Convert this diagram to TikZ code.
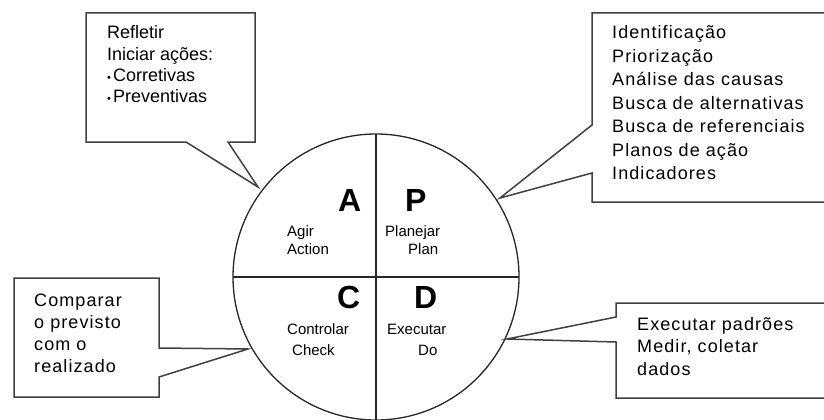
\documentclass[tikz,border=0pt]{standalone}
\usepackage{fontspec}
\setmainfont{Liberation Sans}
\newfontfamily\trackfont[LetterSpace=6]{Liberation Sans}
\begin{document}
\begin{tikzpicture}[x=1pt,y=-1pt,
  callout/.style={draw=black!75, line width=1.5pt, fill=white, line join=miter},
  ring/.style={draw=black!85, line width=1.3pt},
  bigletter/.style={font=\fontsize{32}{32}\selectfont\bfseries, inner sep=0, anchor=base west},
  small/.style={font=\fontsize{15}{15}\selectfont, inner sep=0, anchor=base west},
  txt/.style={inner sep=0, anchor=base west}]
\useasboundingbox (0,0) rectangle (824,420);
\begin{scope}
\clip (0,0) rectangle (824,420);
% circle
\node[ring, circle, minimum size=286pt, inner sep=0, outer sep=0] (cyc) at (376,277) {};
\draw[ring] (cyc.north) -- (cyc.south);
\draw[ring] (cyc.west) -- (cyc.east);
% callout tips
\coordinate (tipA) at (258,187);
\coordinate (tipP) at (500,198);
\coordinate (tipC) at (248,349);
\coordinate (tipD) at (507,339);
% callouts
\draw[callout] (86,13) -- (255,13) -- (255,142) -- (228,142) -- (tipA) -- (186,142) -- (86,142) -- cycle;
\draw[callout] (592,13) -- (832,13) -- (832,202) -- (592,202) -- (592,173) -- (tipP) -- (592,125) -- cycle;
\draw[callout] (14,278) -- (159,278) -- (159,348) -- (tipC) -- (159,377) -- (159,397) -- (14,397) -- cycle;
\draw[callout] (616,303) -- (832,303) -- (832,398) -- (616,398) -- (616,342) -- (tipD) -- (616,317) -- cycle;
% callout texts
\node[txt, font=\fontsize{18}{21.3}\selectfont] (atext) at (107,39)
  {\begin{tabular}[t]{@{}l@{}}Refletir\\Iniciar ações:\\{\fontsize{11}{11}\selectfont •}\hspace{2pt}Corretivas\\{\fontsize{11}{11}\selectfont •}\hspace{2pt}Preventivas\end{tabular}};
\node[txt, font=\trackfont\fontsize{18}{23.4}\selectfont] (ptext) at (612,39)
  {\begin{tabular}[t]{@{}l@{}}Identificação\\Priorização\\Análise das causas\\Busca de alternativas\\Busca de referenciais\\Planos de ação\\Indicadores\end{tabular}};
\node[txt, font=\trackfont\fontsize{18}{22.3}\selectfont] (ctext) at (34,306)
  {\begin{tabular}[t]{@{}l@{}}Comparar\\o previsto\\com o\\realizado\end{tabular}};
\node[txt, font=\trackfont\fontsize{18}{22.5}\selectfont] (dtext) at (637,330)
  {\begin{tabular}[t]{@{}l@{}}Executar padrões\\Medir, coletar\\dados\end{tabular}};
% quadrant letters
\node[bigletter] (letA) at (338,211) {A};
\node[bigletter] (letP) at (405,211) {P};
\node[bigletter] (letC) at (337,308) {C};
\node[bigletter] (letD) at (414,308) {D};
% quadrant labels
\node[small] (agir) at (287,236) {Agir};
\node[small] (action) at (287,254) {Action};
\node[small] (planejar) at (385,236) {Planejar};
\node[small] (plan) at (408,254) {Plan};
\node[small] (controlar) at (287,334) {Controlar};
\node[small] (check) at (292,355) {Check};
\node[small] (executar) at (387,334) {Executar};
\node[small] (do) at (418,355) {Do};
\end{scope}
\end{tikzpicture}
\end{document}
